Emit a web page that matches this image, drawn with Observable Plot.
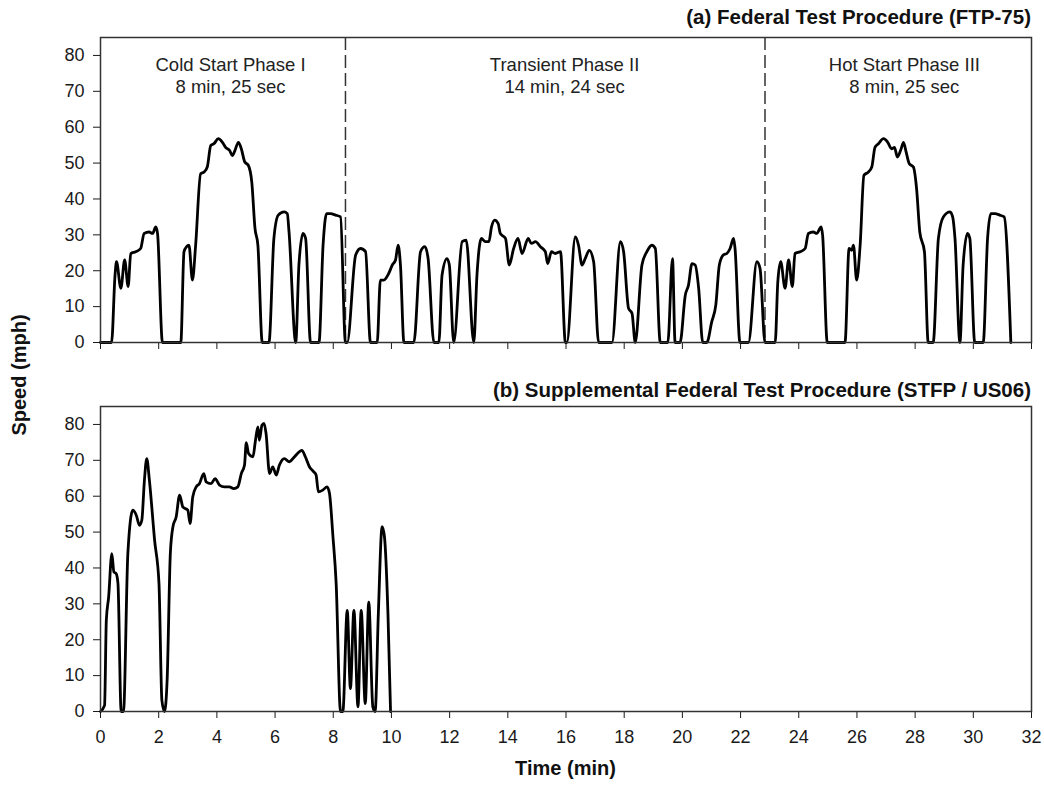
<!DOCTYPE html>
<html>
<head>
<meta charset="utf-8">
<script src="https://cdn.jsdelivr.net/npm/d3@7"></script>
<script src="https://cdn.jsdelivr.net/npm/@observablehq/plot@0.6"></script>
<style>
  html, body { margin: 0; padding: 0; background: #fff; }
  #wrap { position: relative; width: 1044px; height: 785px; font-family: "Liberation Sans", Arial, sans-serif; color: #111; }
  .panel { position: absolute; left: 0; }
  .title { position: absolute; right: 13px; font-weight: bold; font-size: 20.5px; line-height: 20px; white-space: nowrap; }
  .xlabel { position: absolute; left: 100px; width: 931px; text-align: center; font-weight: bold; font-size: 20px; line-height: 20px; }
  .ylabel { position: absolute; font-weight: bold; font-size: 20px; line-height: 20px; white-space: nowrap; transform: translate(-50%, -50%) rotate(-90deg); }
</style>
</head>
<body>
<div id="wrap">
  <div id="p1" class="panel" style="top:0"></div>
  <div id="p2" class="panel" style="top:360px"></div>
  <div class="title" style="top:7px">(a) Federal Test Procedure (FTP-75)</div>
  <div class="title" style="top:380px">(b) Supplemental Federal Test Procedure (STFP / US06)</div>
  <div class="ylabel" style="left:19px; top:375px">Speed (mph)</div>
  <div class="xlabel" style="top:758px">Time (min)</div>
</div>
<script>
// ---- Data ----
// FTP-75 speed trace (time in minutes, speed in mph)
const ftpTime = [
  0, 0.38, 0.50, 0.55, 0.70, 0.83, 0.95, 1.04, 1.21, 1.38, 1.50, 1.67, 1.79, 1.90, 1.96, 2.13,
  2.76, 2.87, 2.96, 3.04, 3.16, 3.27, 3.44, 3.56, 3.67, 3.79, 3.90, 4.05, 4.19, 4.30, 4.44, 4.53,
  4.62, 4.74, 4.84, 4.96, 5.08, 5.20, 5.31, 5.41, 5.56, 5.79, 5.96, 6.11, 6.31, 6.42, 6.48, 6.71,
  6.82, 6.96, 7.05, 7.22, 7.51, 7.65, 7.77, 7.91, 8.08, 8.25, 8.42,
  8.48, 8.77, 8.94, 9.11, 9.28, 9.51, 9.62, 9.74, 9.91, 10.03, 10.14, 10.23, 10.31, 10.43,
  10.77, 11.00, 11.15, 11.26, 11.46, 11.63, 11.74, 11.91, 11.99, 12.14, 12.43, 12.57, 12.83,
  12.94, 13.09, 13.23, 13.35, 13.44, 13.55, 13.67, 13.74, 13.92, 14.05, 14.20, 14.35, 14.49,
  14.70, 14.81, 14.95, 15.12, 15.29, 15.37, 15.50, 15.63, 15.81, 15.98, 16.03, 16.32, 16.43,
  16.55, 16.66, 16.80, 16.95, 17.12, 17.58, 17.87, 17.98, 18.15, 18.27, 18.38, 18.61, 18.78,
  18.95, 19.07, 19.24, 19.50, 19.66, 19.75, 19.92, 20.10, 20.21, 20.33, 20.44, 20.56, 20.70,
  20.84, 21.01, 21.15, 21.27, 21.41, 21.53, 21.64, 21.76, 21.81, 21.98, 22.27, 22.56, 22.67, 22.84,
  23.19, 23.28, 23.38, 23.53, 23.65, 23.78, 23.87, 24.05, 24.22, 24.33, 24.50, 24.62, 24.77, 24.82,
  24.98, 25.59, 25.73, 25.82, 25.88, 25.99, 26.11, 26.24, 26.39, 26.51, 26.62, 26.74, 26.91, 27.06,
  27.19, 27.29, 27.39, 27.52, 27.60, 27.69, 27.80, 27.94, 28.05, 28.16, 28.32, 28.45, 28.62, 28.80,
  28.97, 29.20, 29.29, 29.37, 29.54, 29.65, 29.80, 29.88, 30.05, 30.34, 30.49, 30.60, 30.74, 30.91,
  31.06, 31.29
];
const ftpSpeed = [
  0, 0, 18.8, 22.5, 15.1, 23.0, 15.6, 24.8, 25.3, 26.2, 30.4, 30.8, 30.4, 32.2, 30.4, 0,
  0, 25.3, 26.7, 27.1, 17.4, 27.1, 47.0, 47.5, 48.9, 54.9, 55.4, 56.8, 55.8, 54.4, 53.5, 52.1,
  53.5, 55.8, 54.0, 50.3, 49.4, 44.7, 31.8, 27.1, 0, 0, 29.0, 35.5, 36.4, 35.9, 30.8, 0,
  21.6, 30.4, 29.0, 0, 0, 27.1, 35.9, 35.9, 35.5, 35.0, 0,
  0, 24.4, 26.2, 25.3, 0, 0, 17.4, 17.4, 19.3, 21.6, 23.0, 27.1, 21.6, 0,
  0, 25.3, 26.7, 23.4, 0, 0, 18.8, 23.4, 21.6, 0, 28.1, 28.5, 0,
  18.8, 29.0, 28.1, 28.1, 32.2, 34.1, 33.1, 30.4, 29.0, 21.6, 26.2, 29.0, 24.8,
  29.0, 27.6, 28.1, 26.7, 25.3, 22.0, 25.3, 24.8, 25.3, 0, 0, 29.4, 27.1,
  21.6, 23.4, 25.7, 22.5, 0, 0, 28.1, 25.3, 9.5, 8.1, 0, 21.6, 25.3,
  27.1, 26.2, 0, 0, 23.4, 0, 0, 13.2, 16.0, 22.0, 21.6, 15.1, 0,
  0, 5.8, 10.5, 21.6, 24.4, 24.8, 26.2, 29.0, 26.2, 0, 0, 22.5, 20.6, 0,
  0, 16.9, 22.5, 15.1, 23.0, 15.6, 24.8, 25.3, 26.2, 30.4, 30.8, 30.4, 32.2, 29.9,
  0, 0, 26.2, 25.7, 27.1, 17.4, 27.1, 46.6, 47.5, 48.9, 54.4, 55.4, 56.8, 55.8,
  54.0, 54.4, 51.7, 54.0, 55.8, 53.1, 49.8, 48.9, 42.9, 30.8, 25.3, 0, 0, 29.0,
  35.0, 36.4, 35.0, 29.0, 0, 21.6, 30.4, 29.0, 0, 0, 29.0, 35.9, 35.9, 35.5,
  35.0, 0
];

// US06 speed trace (time in minutes, speed in mph)
const us06Time = [
  0, 0.14, 0.20, 0.28, 0.39, 0.46, 0.54, 0.60, 0.71, 0.79, 0.94, 1.11, 1.23, 1.34, 1.42, 1.51,
  1.59, 1.68, 1.86, 2.01, 2.11, 2.20, 2.29, 2.40, 2.49, 2.60, 2.72, 2.83, 3.00, 3.08, 3.17, 3.29,
  3.40, 3.55, 3.63, 3.80, 3.94, 4.09, 4.26, 4.43, 4.58, 4.72, 4.84, 4.95, 5.01, 5.09, 5.24, 5.32,
  5.41, 5.46, 5.55, 5.62, 5.69, 5.81, 5.92, 6.04, 6.15, 6.32, 6.49, 6.67, 6.84, 6.92, 7.04, 7.18,
  7.33, 7.41, 7.49, 7.64, 7.79, 7.87, 7.99, 8.10, 8.25, 8.33, 8.48, 8.59, 8.71, 8.85, 8.96, 9.10,
  9.22, 9.36, 9.44, 9.55, 9.68, 9.76, 9.88, 9.97
];
const us06Speed = [
  0, 1.7, 25.4, 31.9, 44.0, 38.9, 38.4, 35.7, 0, 0, 44.0, 56.1, 54.7, 51.9, 53.3, 64.5,
  70.5, 64.5, 47.7, 35.7, 3.1, 0, 8.7, 44.0, 51.5, 54.2, 60.3, 57.0, 56.1, 52.4, 59.8, 62.6,
  63.5, 66.3, 64.0, 63.5, 64.9, 63.1, 62.6, 62.6, 62.1, 62.6, 66.3, 68.7, 74.9, 71.9, 71.0, 75.2,
  79.3, 75.6, 79.8, 80.3, 77.5, 66.3, 68.2, 65.9, 68.7, 70.5, 69.6, 71.0, 72.4, 72.8, 71.0, 68.2,
  66.8, 65.9, 61.2, 61.7, 62.6, 60.8, 48.7, 35.7, 0, 0, 28.2, 6.4, 28.2, 1.3, 28.2, 2.2,
  30.5, 1.3, 0, 27.3, 51.5, 48.7, 27.3, 0
];

// FTP-75 phases
const phaseBoundaries = [8.42, 22.84];
const phaseNames = ["Cold Start Phase I", "Transient Phase II", "Hot Start Phase III"];
const phaseDurations = ["8 min, 25 sec", "14 min, 24 sec", "8 min, 25 sec"];
const phaseLabelTime = [4.47, 15.95, 27.63];
const phaseLabelSpeed = [74.7, 74.7, 74.7];

// Axis ticks
const xTicks = [0, 2, 4, 6, 8, 10, 12, 14, 16, 18, 20, 22, 24, 26, 28, 30, 32];
const yTicks = [0, 10, 20, 30, 40, 50, 60, 70, 80];

// ---- Build tables ----
const ftpRows = ftpTime.map((t, i) => ({t, v: ftpSpeed[i]}));
const us06Rows = us06Time.map((t, i) => ({t, v: us06Speed[i]}));
const phaseRows = phaseNames.map((n, i) => ({t: phaseLabelTime[i], v: phaseLabelSpeed[i], label: n + "\n" + phaseDurations[i]}));

const font = {fontFamily: "'Liberation Sans', Arial, sans-serif", fontSize: "18px", color: "#1a1a1a", background: "white", overflow: "visible"};

const common = {
  width: 1044,
  marginLeft: 100,
  marginRight: 13,
  style: font
};

const p1 = Plot.plot({
  ...common,
  height: 360,
  marginTop: 37,
  marginBottom: 18,
  x: {domain: [0, 32], ticks: xTicks, tickSize: 7, tickFormat: () => "", label: null},
  y: {domain: [0, 85], ticks: yTicks, tickSize: 7, tickPadding: 9, label: null},
  marks: [
    Plot.ruleX(phaseBoundaries, {stroke: "#333", strokeWidth: 1.5, strokeDasharray: "13,5"}),
    Plot.line(ftpRows, {x: "t", y: "v", stroke: "#000", strokeWidth: 2.8, curve: "monotone-x"}),
    Plot.text(phaseRows, {x: "t", y: "v", text: "label", fontSize: 18.5, lineHeight: 1.19, fill: "#222"}),
    Plot.frame({stroke: "#333", strokeWidth: 1.5})
  ]
});

const p2 = Plot.plot({
  ...common,
  height: 425,
  marginTop: 46,
  marginBottom: 74,
  x: {domain: [0, 32], ticks: xTicks, tickSize: 7, tickPadding: 12, label: null},
  y: {domain: [0, 85], ticks: yTicks, tickSize: 7, tickPadding: 9, label: null},
  marks: [
    Plot.line(us06Rows, {x: "t", y: "v", stroke: "#000", strokeWidth: 2.8, curve: "monotone-x"}),
    Plot.frame({stroke: "#333", strokeWidth: 1.5})
  ]
});

document.getElementById("p1").appendChild(p1);
document.getElementById("p2").appendChild(p2);
</script>
</body>
</html>
